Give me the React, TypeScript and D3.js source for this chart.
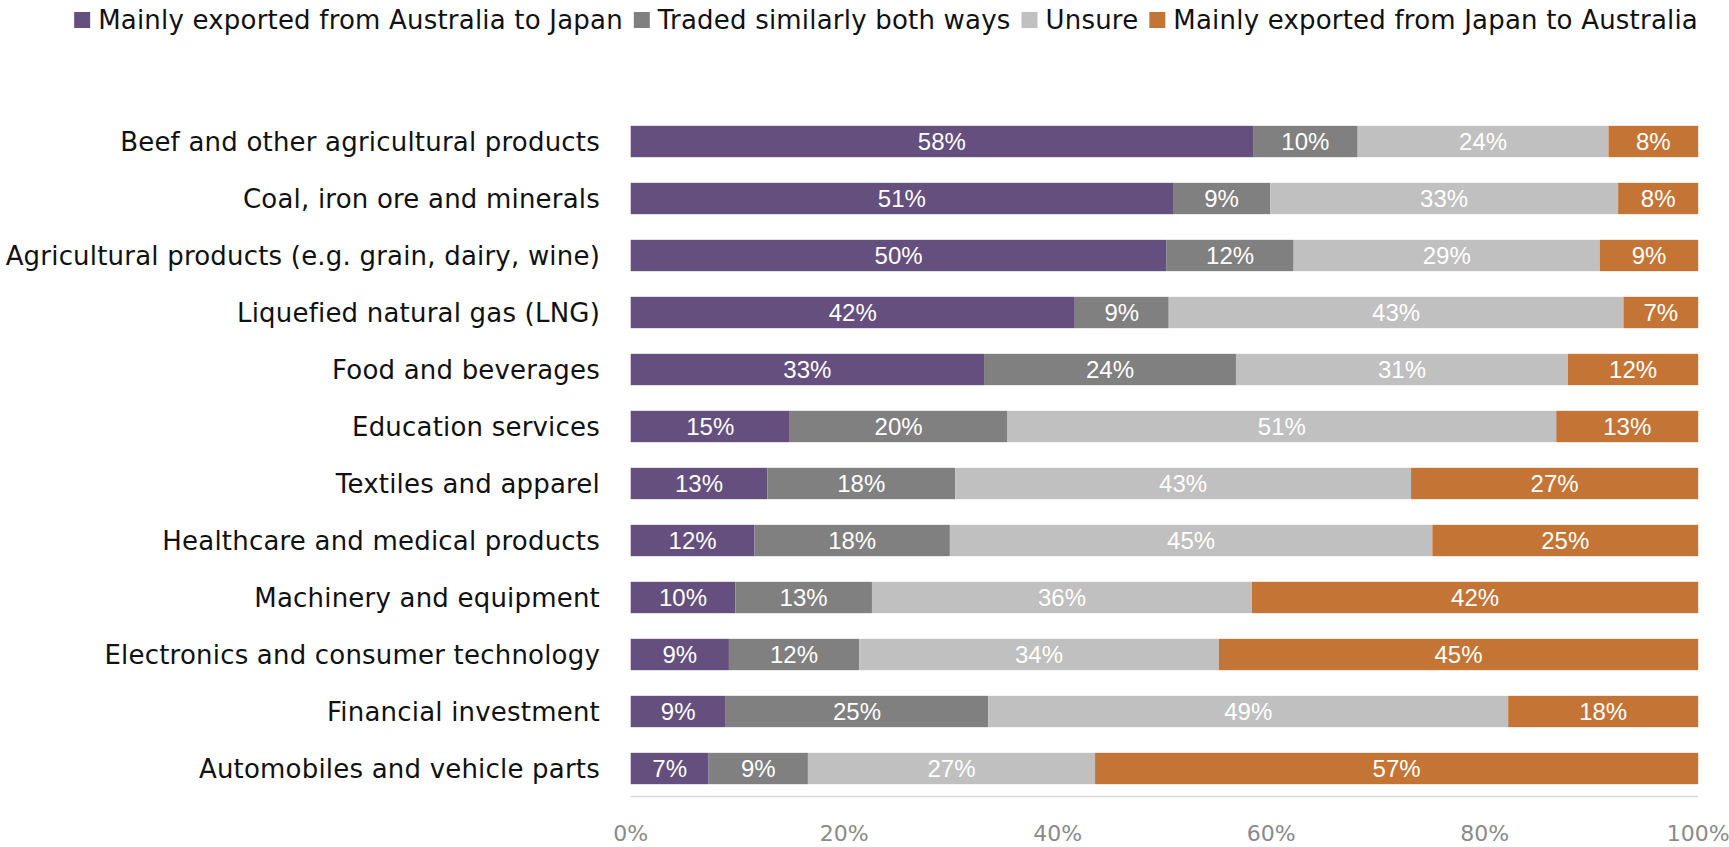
import React, { useEffect, useRef } from "react";
import * as d3 from "d3";

const categories = [
  "Beef and other agricultural products",
  "Coal, iron ore and minerals",
  "Agricultural products (e.g. grain, dairy, wine)",
  "Liquefied natural gas (LNG)",
  "Food and beverages",
  "Education services",
  "Textiles and apparel",
  "Healthcare and medical products",
  "Machinery and equipment",
  "Electronics and consumer technology",
  "Financial investment",
  "Automobiles and vehicle parts",
];

const seriesNames = [
  "Mainly exported from Australia to Japan",
  "Traded similarly both ways",
  "Unsure",
  "Mainly exported from Japan to Australia",
];

const seriesColors = ["#644F7E", "#808080", "#C0C0C0", "#C47535"];

const ausToJapan = [58.3, 50.8, 50.2, 41.6, 33.1, 14.9, 12.8, 11.6, 9.8, 9.2, 8.9, 7.3];
const similarBoth = [9.8, 9.1, 11.9, 8.8, 23.6, 20.4, 17.6, 18.3, 12.8, 12.2, 24.6, 9.3];
const unsure = [23.5, 32.6, 28.7, 42.6, 31.1, 51.4, 42.7, 45.2, 35.6, 33.7, 48.7, 26.9];
const japanToAus = [8.4, 7.5, 9.2, 7.0, 12.2, 13.3, 26.9, 24.9, 41.8, 44.9, 17.8, 56.5];

const tickValues = [0, 20, 40, 60, 80, 100];

const W = 1729;
const H = 847;
const FONT = "'DejaVu Sans', 'Noto Sans', sans-serif";

export default function App() {
  const ref = useRef<SVGSVGElement>(null);

  useEffect(() => {
    const svg = d3.select(ref.current);
    svg.selectAll("*").remove();

    const rows = categories.map((c, i) => ({
      category: c,
      s0: ausToJapan[i],
      s1: similarBoth[i],
      s2: unsure[i],
      s3: japanToAus[i],
    }));
    const keys = ["s0", "s1", "s2", "s3"];
    const stack = d3.stack<any>().keys(keys)(rows);

    const x = d3.scaleLinear().domain([0, 100]).range([630.7, 1698.2]);
    const y = d3
      .scaleBand<string>()
      .domain(categories)
      .range([113, 797])
      .paddingInner(0.45)
      .paddingOuter(0.225);

    // axis baseline
    svg
      .append("line")
      .attr("x1", x(0))
      .attr("x2", x(100))
      .attr("y1", 796.5)
      .attr("y2", 796.5)
      .attr("stroke", "#D9D9D9")
      .attr("stroke-width", 1.5);

    // bars
    stack.forEach((layer, li) => {
      const g = svg.append("g");
      g.selectAll("rect")
        .data(layer)
        .join("rect")
        .attr("x", (d) => x(d[0]))
        .attr("y", (d) => y(d.data.category)!)
        .attr("width", (d) => x(d[1]) - x(d[0]))
        .attr("height", y.bandwidth())
        .attr("fill", seriesColors[li]);
      g.selectAll("text")
        .data(layer)
        .join("text")
        .attr("x", (d) => (x(d[0]) + x(d[1])) / 2)
        .attr("y", (d) => y(d.data.category)! + y.bandwidth() / 2)
        .attr("dy", "0.36em")
        .attr("text-anchor", "middle")
        .attr("fill", "#FFFFFF")
        .attr("font-family", "'Liberation Sans', Arial, sans-serif")
        .attr("font-size", 24)
        .text((d) => `${Math.round(d[1] - d[0])}%`);
    });

    // category labels
    svg
      .append("g")
      .selectAll("text")
      .data(categories)
      .join("text")
      .attr("x", 600)
      .attr("y", (d) => y(d)! + y.bandwidth() / 2)
      .attr("dy", "0.35em")
      .attr("text-anchor", "end")
      .attr("fill", "#111111")
      .attr("font-family", FONT)
      .attr("font-size", 26)
      .attr("letter-spacing", 0.2)
      .text((d) => d);

    // x tick labels
    svg
      .append("g")
      .selectAll("text")
      .data(tickValues)
      .join("text")
      .attr("x", (d) => x(d))
      .attr("y", 833)
      .attr("dy", "0.35em")
      .attr("text-anchor", "middle")
      .attr("fill", "#8A8A8A")
      .attr("font-family", FONT)
      .attr("font-size", 22)
      .text((d) => `${d}%`);

    // legend (right aligned)
    const legend = svg.append("g");
    const items = seriesNames.map((name, i) => {
      const g = legend.append("g");
      g.append("rect")
        .attr("width", 16)
        .attr("height", 16)
        .attr("y", -8)
        .attr("fill", seriesColors[i]);
      const t = g
        .append("text")
        .attr("x", 24)
        .attr("dy", "0.35em")
        .attr("fill", "#111111")
        .attr("font-family", FONT)
        .attr("font-size", 26)
        .attr("letter-spacing", 0.2)
        .text(name);
      const w = 24 + (t.node() as SVGTextElement).getComputedTextLength();
      return { g, w };
    });
    const gap = 11;
    const total = items.reduce((a, b) => a + b.w, 0) + gap * (items.length - 1);
    let cx = 1698 - total;
    items.forEach((it) => {
      it.g.attr("transform", `translate(${cx},20)`);
      cx += it.w + gap;
    });
  }, []);

  return (
    <svg
      ref={ref}
      width={W}
      height={H}
      style={{ position: "absolute", left: 0, top: 0, background: "#fff" }}
    />
  );
}
